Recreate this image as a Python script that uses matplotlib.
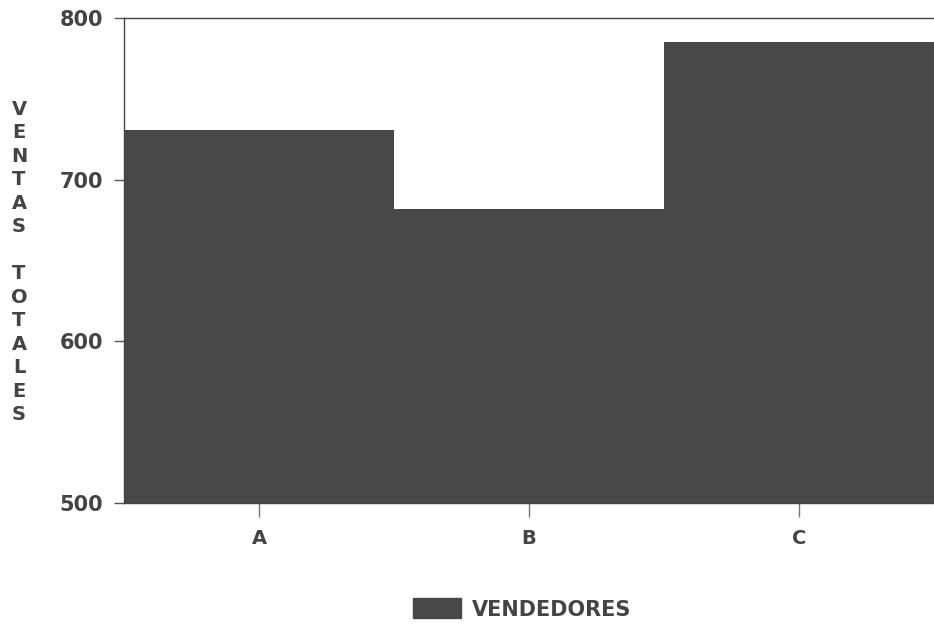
import matplotlib.pyplot as plt
from matplotlib.patches import Patch

# data
categories = ['A', 'B', 'C']
ventas = [731, 682, 785]
y_ticks = [500, 600, 700, 800]
series_name = 'VENDEDORES'
y_label = 'VENTAS TOTALES'

bar_color = '#484848'
text_color = '#444444'
plt.rcParams['font.family'] = ['DejaVu Sans']
plt.rcParams['font.weight'] = 'bold'

fig = plt.figure(figsize=(9.34, 6.24), dpi=100)
ax = fig.add_axes([124 / 934, 1 - 503 / 624, 810 / 934, 485 / 624])

ax.bar(range(len(categories)), ventas, width=1.0, color=bar_color)
ax.set_ylim(500, 800)
ax.set_xlim(-0.5, 2.5)
ax.set_yticks(y_ticks)
ax.set_xticks(range(len(categories)))
ax.set_xticklabels(categories)

ax.tick_params(axis='y', direction='out', length=7, width=1, color='#555555',
               labelsize=15, labelcolor=text_color, pad=8)
ax.tick_params(axis='x', direction='out', length=10, width=1, color='#777777',
               labelsize=14, labelcolor=text_color, pad=9)
for side in ['left', 'top', 'bottom']:
    ax.spines[side].set_color('#444444')
    ax.spines[side].set_linewidth(1)
ax.spines['right'].set_visible(False)

# stacked vertical letters for the y label
fig.text(19 / 934, 1 - 262 / 624, '\n'.join(y_label), ha='center', va='center',
         fontsize=14, color=text_color, linespacing=1.3)

handle = [Patch(facecolor=bar_color, edgecolor=bar_color)]
fig.legend(handle, [series_name], loc='center', bbox_to_anchor=(522 / 934, 1 - 609 / 624),
           frameon=False, fontsize=15, handlelength=2.3, handleheight=1.1,
           handletextpad=0.5, labelcolor=text_color)

fig.savefig('out.png', dpi=100)
